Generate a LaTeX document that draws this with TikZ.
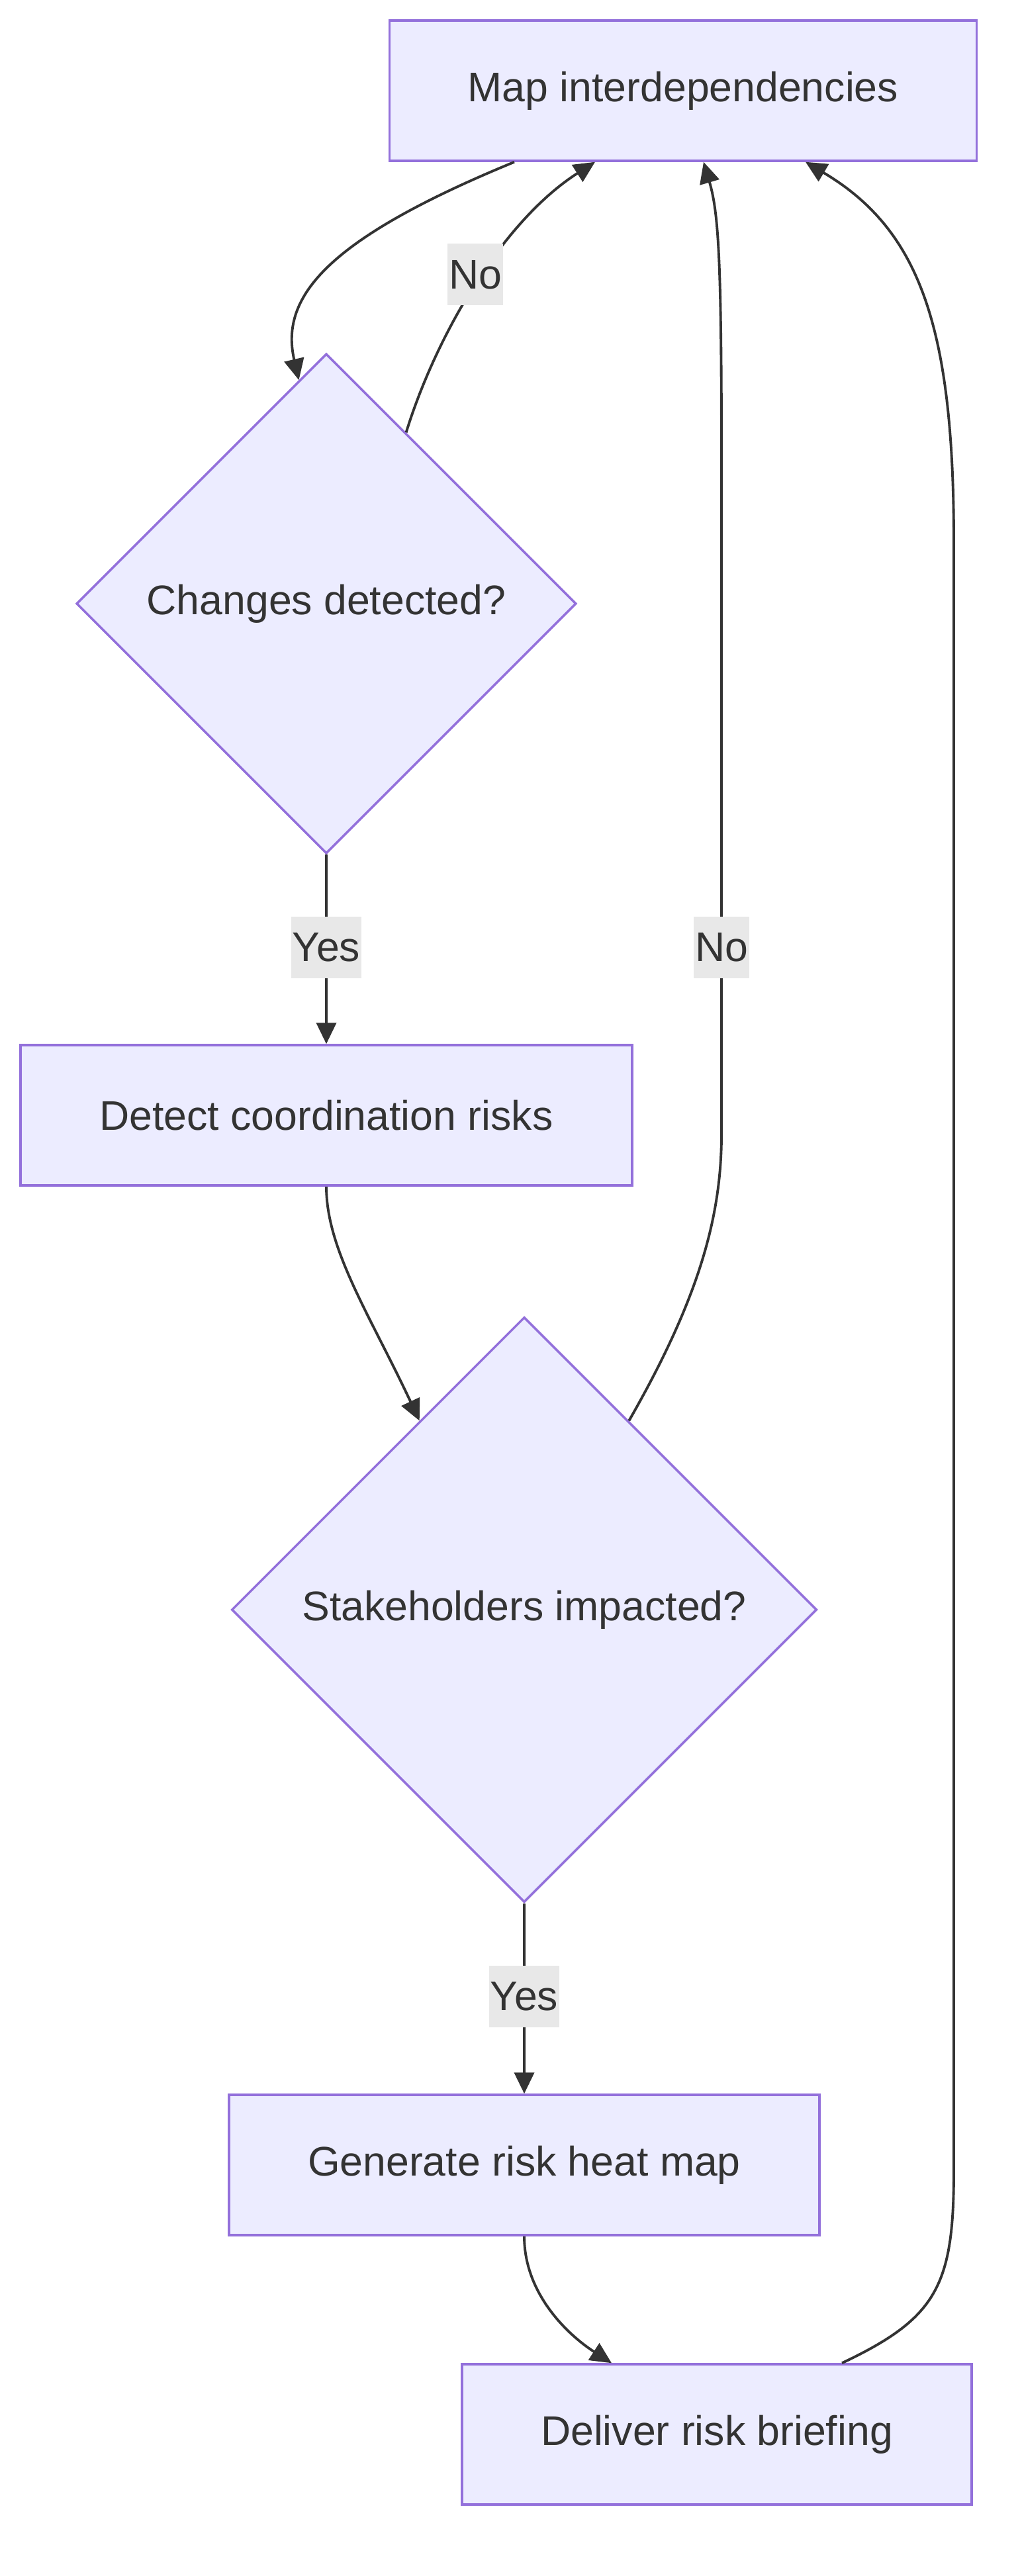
\documentclass[tikz,border=0pt]{standalone}
\usepackage{fontspec}
\setmainfont{Liberation Sans}
\usepackage{xcolor}
\usepackage{tikz}
\usetikzlibrary{shapes.geometric,arrows.meta}

\definecolor{nodefill}{HTML}{ECECFF}
\definecolor{nodeline}{HTML}{9370DB}
\definecolor{ink}{HTML}{333333}
\definecolor{lblfill}{HTML}{E8E8E8}

\begin{document}
\begin{tikzpicture}[>={Triangle[length=0.32cm,width=0.3cm]},
  font=\fontsize{17.8pt}{21pt}\selectfont, text=ink,
  box/.style={draw=nodeline, fill=nodefill, line width=1pt, rectangle, minimum height=2.12cm, inner sep=0pt},
  decision/.style={draw=nodeline, fill=nodefill, line width=1pt, diamond, inner sep=0pt},
  lbl/.style={fill=lblfill, inner xsep=0.02cm, inner ysep=0pt, minimum height=0.93cm},
  link/.style={draw=ink, line width=1.1pt}]

\useasboundingbox (0,0) rectangle (15.4,-38.92);

\node [box, minimum width=8.87cm] (map) at (10.32,-1.37) {Map interdependencies};

\node [decision, minimum width=7.55cm, minimum height=7.55cm] (chg) at (4.93,-9.12) {Changes detected?};

\node [box, minimum width=9.24cm] (detect) at (4.93,-16.85) {Detect coordination risks};

\node [decision, minimum width=8.84cm, minimum height=8.84cm] (stake) at (7.92,-24.32) {Stakeholders impacted?};

\node [box, minimum width=8.92cm] (heat) at (7.92,-32.71) {Generate risk heat map};

\node [box, minimum width=7.70cm] (brief) at (10.83,-36.78) {Deliver risk briefing};

\draw [link, ->] ([xshift=-2.55cm]map.south) .. controls (4.97,-3.60) and (4.22,-4.47) .. (chg.97);
\draw [link, ->] (chg.65) .. controls (6.58,-5.09) and (7.58,-3.35) .. ([xshift=-1.33cm]map.south);
\draw [link, ->] (chg) -- (detect);
\draw [link, ->] (detect.south) .. controls (4.93,-18.88) and (5.59,-19.87) .. (stake.119);
\draw [link, ->] (stake.61) .. controls (10.56,-19.62) and (10.90,-18.38) .. (10.90,-17.14) -- (10.90,-6.96) .. controls (10.90,-3.97) and (10.86,-3.23) .. ([xshift=0.31cm]map.south);
\draw [link, ->] (stake) -- (heat);
\draw [link, ->] (heat.south) .. controls (7.92,-34.65) and (8.57,-35.27) .. ([xshift=-1.59cm]brief.north);
\draw [link, ->] ([xshift=1.89cm]brief.north) .. controls (14.16,-35.02) and (14.41,-34.53) .. (14.41,-32.79) -- (14.41,-8.20) .. controls (14.41,-4.97) and (13.91,-3.48) .. ([xshift=1.85cm]map.south);

\node [lbl] (no1) at (7.18,-4.15) {No};
\node [lbl] (yes1) at (4.93,-14.31) {Yes};
\node [lbl] (no2) at (10.90,-14.31) {No};
\node [lbl] (yes2) at (7.92,-30.16) {Yes};

\end{tikzpicture}
\end{document}
